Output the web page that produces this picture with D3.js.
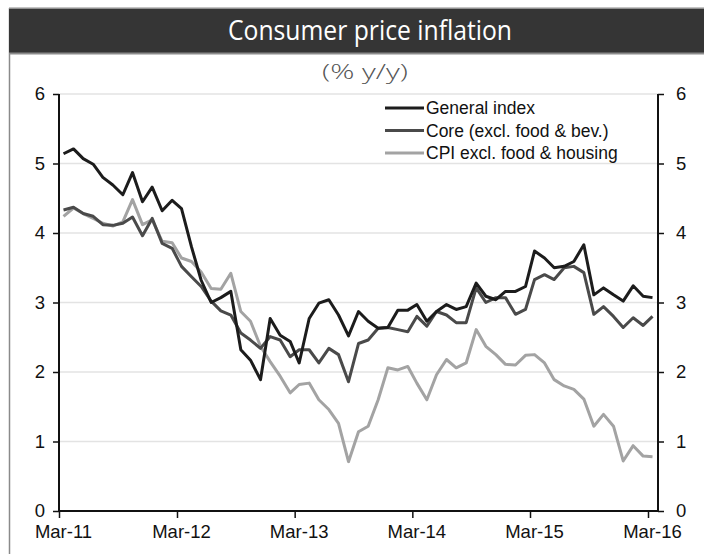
<!DOCTYPE html>
<html>
<head>
<meta charset="utf-8">
<script src="https://cdn.jsdelivr.net/npm/d3@7"></script>
<style>
  body { margin: 0; background: #fff; }
  svg text { font-family: "Liberation Sans", Arial, sans-serif; }
</style>
</head>
<body>
<div id="chart"></div>
<script>
// monthly data, Mar-11 .. Mar-16 (61 points)
const firstMonth = [2011, 2];
const general = [5.14, 5.21, 5.07, 4.99, 4.80, 4.69, 4.55, 4.87, 4.45, 4.66, 4.32, 4.47, 4.35,
  3.80, 3.32, 3.00, 3.07, 3.16, 2.32, 2.17, 1.89, 2.77, 2.53, 2.44, 2.13, 2.77, 2.99, 3.04,
  2.82, 2.52, 2.87, 2.73, 2.63, 2.64, 2.89, 2.89, 2.97, 2.73, 2.87, 2.97, 2.90, 2.94, 3.28,
  3.09, 3.04, 3.16, 3.16, 3.23, 3.74, 3.64, 3.50, 3.52, 3.59, 3.83, 3.11, 3.21, 3.11, 3.02,
  3.24, 3.09, 3.07];
const core = [4.33, 4.37, 4.28, 4.24, 4.12, 4.11, 4.14, 4.23, 3.96, 4.21, 3.85, 3.78, 3.52,
  3.37, 3.23, 3.02, 2.88, 2.82, 2.56, 2.46, 2.34, 2.51, 2.46, 2.22, 2.32, 2.32, 2.13, 2.34,
  2.25, 1.86, 2.41, 2.46, 2.63, 2.64, 2.61, 2.58, 2.80, 2.66, 2.87, 2.82, 2.71, 2.71, 3.21,
  3.00, 3.07, 3.07, 2.83, 2.90, 3.33, 3.40, 3.33, 3.50, 3.52, 3.43, 2.83, 2.94, 2.80, 2.64,
  2.78, 2.67, 2.80];
const cpiExFoodHousing = [4.24, 4.36, 4.28, 4.21, 4.14, 4.10, 4.16, 4.48, 4.12, 4.19, 3.88,
  3.86, 3.64, 3.59, 3.44, 3.20, 3.19, 3.42, 2.87, 2.73, 2.37, 2.15, 1.94, 1.70, 1.82, 1.84,
  1.60, 1.46, 1.26, 0.71, 1.14, 1.22, 1.60, 2.06, 2.03, 2.08, 1.84, 1.60, 1.96, 2.18, 2.06,
  2.13, 2.61, 2.37, 2.25, 2.11, 2.10, 2.24, 2.25, 2.13, 1.89, 1.80, 1.75, 1.61, 1.22, 1.39,
  1.22, 0.72, 0.94, 0.79, 0.78];
const seriesNames = ["General index", "Core (excl. food & bev.)", "CPI excl. food & housing"];
const yTicks = [0, 1, 2, 3, 4, 5, 6];
const xTickLabels = ["Mar-11", "Mar-12", "Mar-13", "Mar-14", "Mar-15", "Mar-16"];

const W = 704, H = 554;
const plot = {left: 59, right: 658, top: 94, bottom: 511};

const svg = d3.select("#chart").append("svg")
    .attr("width", W)
    .attr("height", H);

// frame + title bar
svg.append("line")
    .attr("x1", 9.5).attr("x2", 9.5).attr("y1", 8).attr("y2", H)
    .attr("stroke", "#8a8a8a").attr("stroke-width", 1.5);
svg.append("rect")
    .attr("x", 9).attr("y", 8).attr("width", W - 9).attr("height", 45)
    .attr("fill", "#353535");
svg.append("line")
    .attr("x1", 9).attr("x2", W).attr("y1", 8).attr("y2", 8)
    .attr("stroke", "#b0b0b0").attr("stroke-width", 1.5);
svg.append("line")
    .attr("x1", 9).attr("x2", W).attr("y1", 53.5).attr("y2", 53.5)
    .attr("stroke", "#8c8c8c").attr("stroke-width", 2);

svg.append("text")
    .attr("x", 228).attr("y", 40)
    .attr("textLength", 284).attr("lengthAdjust", "spacingAndGlyphs")
    .style("font-family", "'Open Sans', 'Noto Sans', sans-serif")
    .style("font-size", "27px")
    .attr("fill", "#fff")
    .text("Consumer price inflation");

svg.append("text")
    .attr("x", 322).attr("y", 79)
    .attr("textLength", 86).attr("lengthAdjust", "spacingAndGlyphs")
    .style("font-family", "'Open Sans', 'Noto Sans', sans-serif")
    .style("font-size", "20px")
    .style("font-weight", 300)
    .attr("fill", "#555")
    .text("(% y/y)");

// scales
const dates = general.map((d, i) => new Date(firstMonth[0], firstMonth[1] + i, 15));
const x = d3.scaleTime()
    .domain([new Date(2011, 2, 1), new Date(2016, 2, 1)])
    .range([plot.left, 648]);
const y = d3.scaleLinear()
    .domain([0, 6])
    .range([plot.bottom, plot.top]);

// gridlines
svg.append("g").selectAll("line")
    .data(yTicks.filter(d => d > 0))
    .enter().append("line")
    .attr("x1", plot.left).attr("x2", plot.right)
    .attr("y1", d => y(d)).attr("y2", d => y(d))
    .attr("stroke", "#e3e3e3").attr("stroke-width", 1.5);

// axes
const tickDates = xTickLabels.map((d, i) => new Date(2011 + i, 2, 1));

const gx = svg.append("g")
    .attr("transform", "translate(0," + plot.bottom + ")")
    .call(d3.axisBottom(x).tickValues(tickDates)
        .tickFormat((d, i) => xTickLabels[i])
        .tickSize(7).tickPadding(7));
gx.selectAll("text").attr("dx", 4);

const gl = svg.append("g")
    .attr("transform", "translate(" + plot.left + ",0)")
    .call(d3.axisLeft(y).tickValues(yTicks).tickFormat(d3.format("d"))
        .tickSize(6).tickPadding(8));

const gr = svg.append("g")
    .attr("transform", "translate(" + plot.right + ",0)")
    .call(d3.axisRight(y).tickValues(yTicks).tickFormat(d3.format("d"))
        .tickSize(6).tickPadding(12));

[gx, gl, gr].forEach(g => {
    g.select(".domain").remove();
    g.selectAll(".tick line").attr("stroke", "#111").attr("stroke-width", 1.5);
    g.selectAll("text")
        .style("font-size", "18.5px")
        .attr("fill", "#111");
});

// axis frame lines
svg.append("path")
    .attr("d", "M" + plot.left + "," + plot.top + "V" + plot.bottom + "H" + plot.right + "V" + plot.top)
    .attr("fill", "none")
    .attr("stroke", "#111")
    .attr("stroke-width", 2);

// series lines
const series = [
    {name: seriesNames[0], values: general, color: "#1c1c1c"},
    {name: seriesNames[1], values: core, color: "#4a4a4a"},
    {name: seriesNames[2], values: cpiExFoodHousing, color: "#a3a3a3"}
];

const line = d3.line()
    .x((d, i) => x(dates[i]))
    .y(d => y(d));

// draw light one first so the dark lines sit on top
svg.append("g").selectAll("path")
    .data(series.slice().reverse())
    .enter().append("path")
    .attr("d", d => line(d.values))
    .attr("fill", "none")
    .attr("stroke", d => d.color)
    .attr("stroke-width", 3)
    .attr("stroke-linejoin", "round");

// legend
const legend = svg.append("g")
    .attr("transform", "translate(385,108)");

const item = legend.selectAll("g")
    .data(series)
    .enter().append("g")
    .attr("transform", (d, i) => "translate(0," + (i * 22.5) + ")");

item.append("line")
    .attr("x1", 0).attr("x2", 39)
    .attr("stroke", d => d.color)
    .attr("stroke-width", 3);

item.append("text")
    .attr("x", 41).attr("dy", "0.36em")
    .style("font-size", "17.5px")
    .attr("fill", "#111")
    .text(d => d.name);
</script>
</body>
</html>
